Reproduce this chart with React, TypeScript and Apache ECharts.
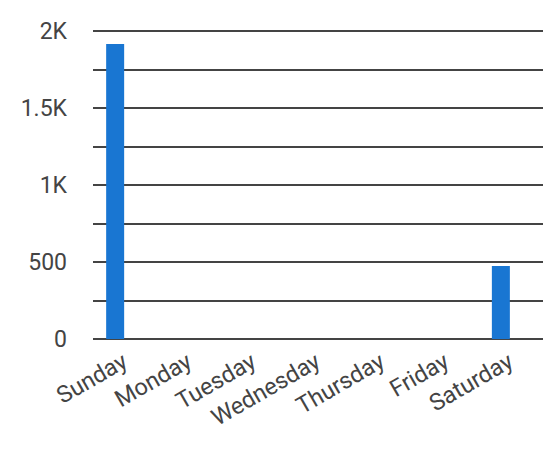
import React, { useEffect, useRef } from "react";
import * as echarts from "echarts";

const categories = ["Sunday", "Monday", "Tuesday", "Wednesday", "Thursday", "Friday", "Saturday"];
const values = [1915, 0, 0, 0, 0, 0, 474];
const emptySeries: (number | null)[] = [null, null, null, null, null, null, null];

export default function App() {
  const ref = useRef<HTMLDivElement>(null);
  useEffect(() => {
    const chart = echarts.init(ref.current!, undefined, { renderer: "svg" });
    chart.setOption({
      animation: false,
      textStyle: { fontFamily: "Roboto" },
      grid: { left: 93, right: 10, top: 31, bottom: 116, containLabel: false },
      xAxis: {
        type: "category",
        data: categories,
        axisLine: { show: false },
        axisTick: { show: false },
        axisLabel: { rotate: 30, fontSize: 23.5, color: "#444", margin: 20, interval: 0, fontFamily: "Roboto" },
      },
      yAxis: {
        type: "value",
        min: 0,
        max: 2000,
        interval: 250,
        axisLine: { show: false },
        axisTick: { show: false },
        splitLine: { lineStyle: { color: "#444", width: 2 } },
        axisLabel: {
          fontSize: 23,
          color: "#444",
          margin: 26,
          fontFamily: "Roboto",
          formatter: (v: number) => {
            if (v % 500 !== 0) return "";
            if (v === 0) return "0";
            if (v < 1000) return String(v);
            return v / 1000 + "K";
          },
        },
      },
      series: [
        { type: "bar", data: values, barWidth: 18, barGap: "11%", itemStyle: { color: "#1976d2" } },
        { type: "bar", data: emptySeries, barWidth: 18, itemStyle: { color: "#1976d2" } },
      ],
    });
    return () => chart.dispose();
  }, []);
  return <div ref={ref} style={{ width: 553, height: 455, position: "absolute", left: 0, top: 0 }} />;
}
